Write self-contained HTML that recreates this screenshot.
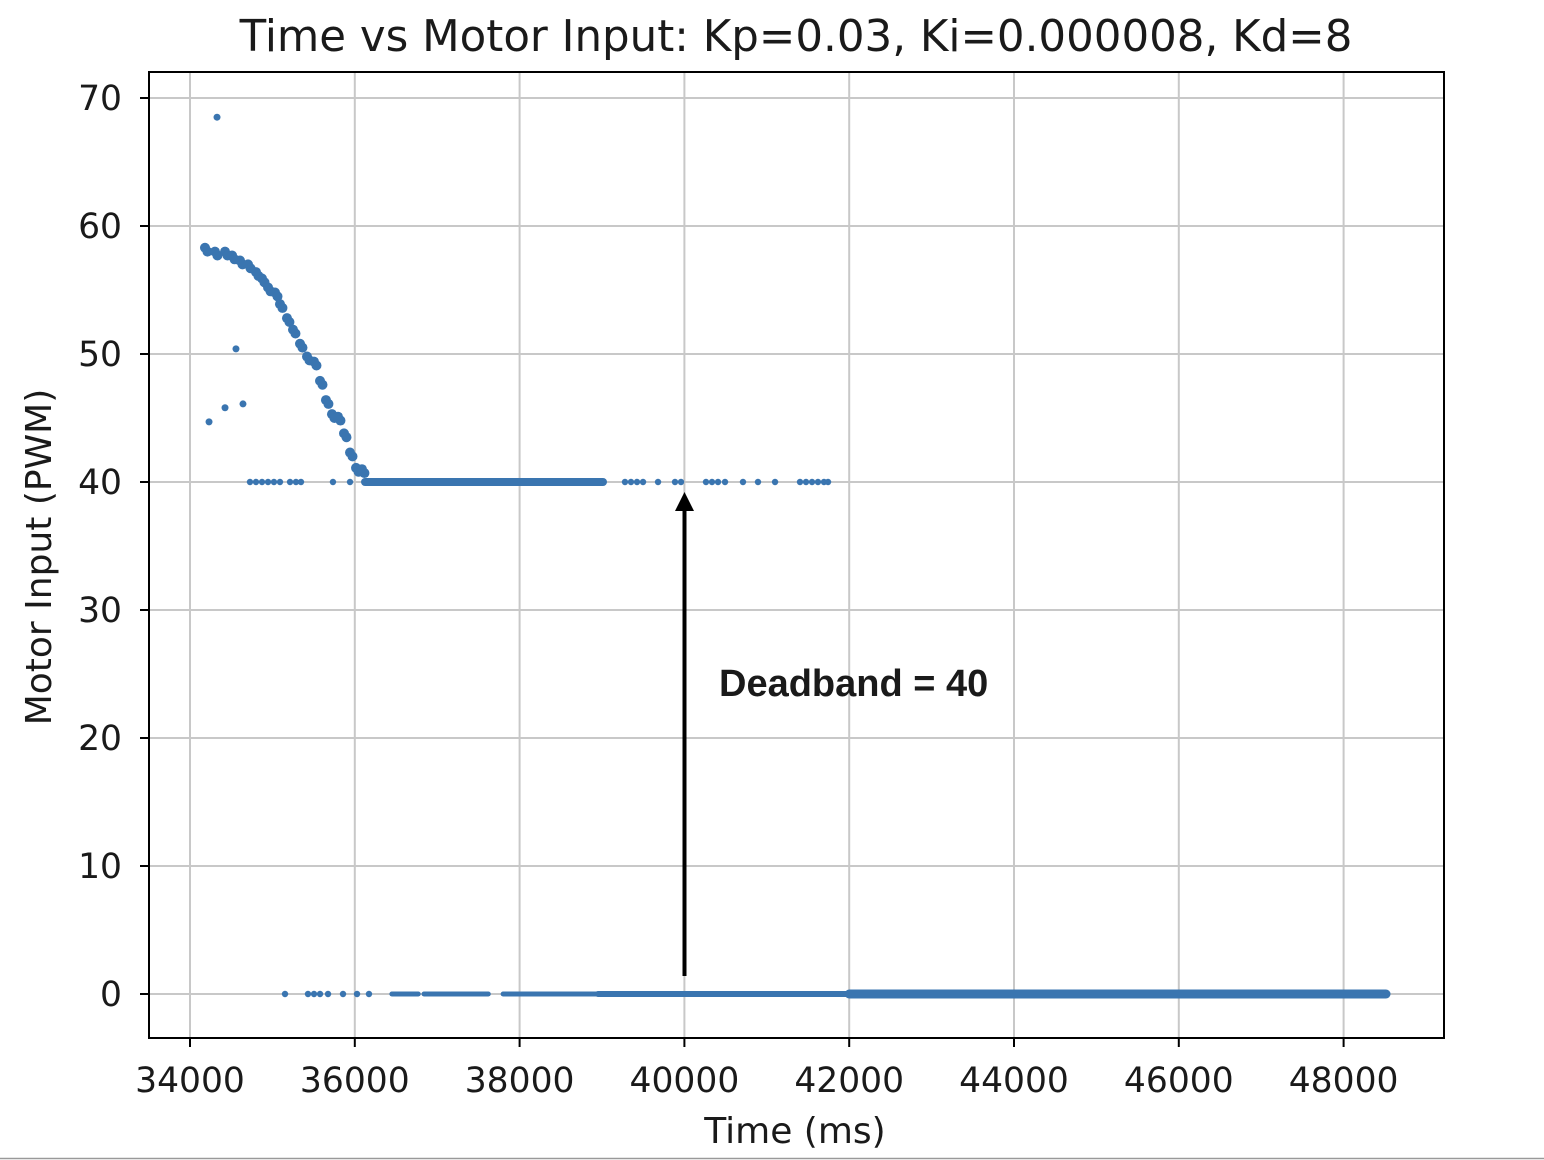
<!DOCTYPE html>
<html><head><meta charset="utf-8"><style>
html,body{margin:0;padding:0;background:#fff;}
svg{display:block;}
text{font-family:"DejaVu Sans","Liberation Sans",sans-serif;fill:#1a1a1a;}
</style></head><body>
<svg id="chart" width="1544" height="1160" viewBox="0 0 1544 1160" xmlns="http://www.w3.org/2000/svg">
<rect width="1544" height="1160" fill="#fff"/>
<line x1="0" y1="1158.5" x2="1544" y2="1158.5" stroke="#999" stroke-width="1.5"/>
<text x="796" y="51" font-size="43.5" text-anchor="middle">Time vs Motor Input: Kp=0.03, Ki=0.000008, Kd=8</text>
<g id="grid"></g>
<g id="marks"></g>
<rect x="149" y="72" width="1295" height="966" fill="none" stroke="#000" stroke-width="2"/>
<g id="axes"></g>
<text x="795" y="1143" font-size="36" text-anchor="middle">Time (ms)</text>
<text transform="translate(51,557) rotate(-90)" font-size="36" text-anchor="middle">Motor Input (PWM)</text>
<g>
<line x1="684.5" y1="976" x2="684.5" y2="508" stroke="#000" stroke-width="4"/>
<polygon points="684.5,492 675,511 694,511" fill="#000"/>
<text x="719" y="696" font-size="38" font-weight="bold" style="font-family:'Liberation Sans',sans-serif" fill="#000">Deadband = 40</text>
</g>
</svg>
<script>
const xTicks=[34000,36000,38000,40000,42000,44000,46000,48000];
const yTicks=[0,10,20,30,40,50,60,70];
const curveT=[34182,34303,34425,34510,34607,34704,34801,34874,34947,35032,35092,35177,35250,35335,35420,35505,35578,35650,35723,35796,35869,35942,36015,36087];
const curveV=[58.3,58.0,58.0,57.7,57.3,57.0,56.4,55.9,55.2,54.8,53.9,52.8,51.9,50.8,49.8,49.4,47.9,46.4,45.3,45.1,43.8,42.3,41.1,41.0];
const outlierT=[34328,34558,34231,34425,34643];
const outlierV=[68.5,50.4,44.7,45.8,46.1];
const sparse40T=[34728,34801,34874,34947,35019,35092,35214,35286,35347,35735,35942,39279,39352,39425,39498,39680,39886,39959,40262,40335,40408,40493,40711,40893,41100,41403,41476,41549,41621,41694,41743];
const sparse0T=[35153,35432,35505,35578,35675,35857,36027,36172];
const runStart=[36124,36450,36840,37800,38950,42000];
const runEnd=[39012,36770,37620,38950,42000,48515];
const runValue=[40,0,0,0,0,0];
const runWidth=[8,5,5,5,6,9];

const X0=190,XK=0.0824,Y0=994,YK=12.8;
const xs=t=>X0+(t-34000)*XK;
const ys=v=>Y0-v*YK;
const NS='http://www.w3.org/2000/svg';
const grid=document.getElementById('grid'),axes=document.getElementById('axes'),marks=document.getElementById('marks');
function mk(tag,attrs,parent){const e=document.createElementNS(NS,tag);for(const k in attrs)e.setAttribute(k,attrs[k]);parent.appendChild(e);return e;}
xTicks.forEach(t=>{const x=xs(t);
 const g=mk('line',{x1:x,x2:x,y1:72,y2:1038,stroke:'#c8c8c8','stroke-width':2},grid);
 
 
 const tk=mk('line',{x1:x,x2:x,y1:1038,y2:1047,stroke:'#000','stroke-width':2},axes);
 
 
 const tx=mk('text',{x:x,y:1092,'font-size':34.5,'text-anchor':'middle'},axes);tx.textContent=t;
 
 
});
yTicks.forEach(v=>{const y=ys(v);
 const g=mk('line',{x1:149,x2:1444,y1:y,y2:y,stroke:'#c8c8c8','stroke-width':2},grid);
 
 
 const tk=mk('line',{x1:140,x2:149,y1:y,y2:y,stroke:'#000','stroke-width':2},axes);
 
 
 const tx=mk('text',{x:122,y:y+12,'font-size':34.5,'text-anchor':'end'},axes);tx.textContent=v;
 
 
});
const C='#3a75b0';
runStart.forEach((s,i)=>{
 const l=mk('line',{x1:xs(s),x2:xs(runEnd[i]),y1:ys(runValue[i]),y2:ys(runValue[i]),stroke:C,'stroke-width':runWidth[i],'stroke-linecap':'round'},marks);
 
 
});
function dot(t,v,r){const c=mk('circle',{cx:xs(t),cy:ys(v),r:r,fill:C},marks);
 
 }
curveT.forEach((t,i)=>{dot(t,curveV[i],5);dot(t+30,curveV[i]-0.3,5);});
outlierT.forEach((t,i)=>dot(t,outlierV[i],3.5));
sparse40T.forEach(t=>dot(t,40,3.2));
sparse0T.forEach(t=>dot(t,0,3.2));
</script>
</body></html>
